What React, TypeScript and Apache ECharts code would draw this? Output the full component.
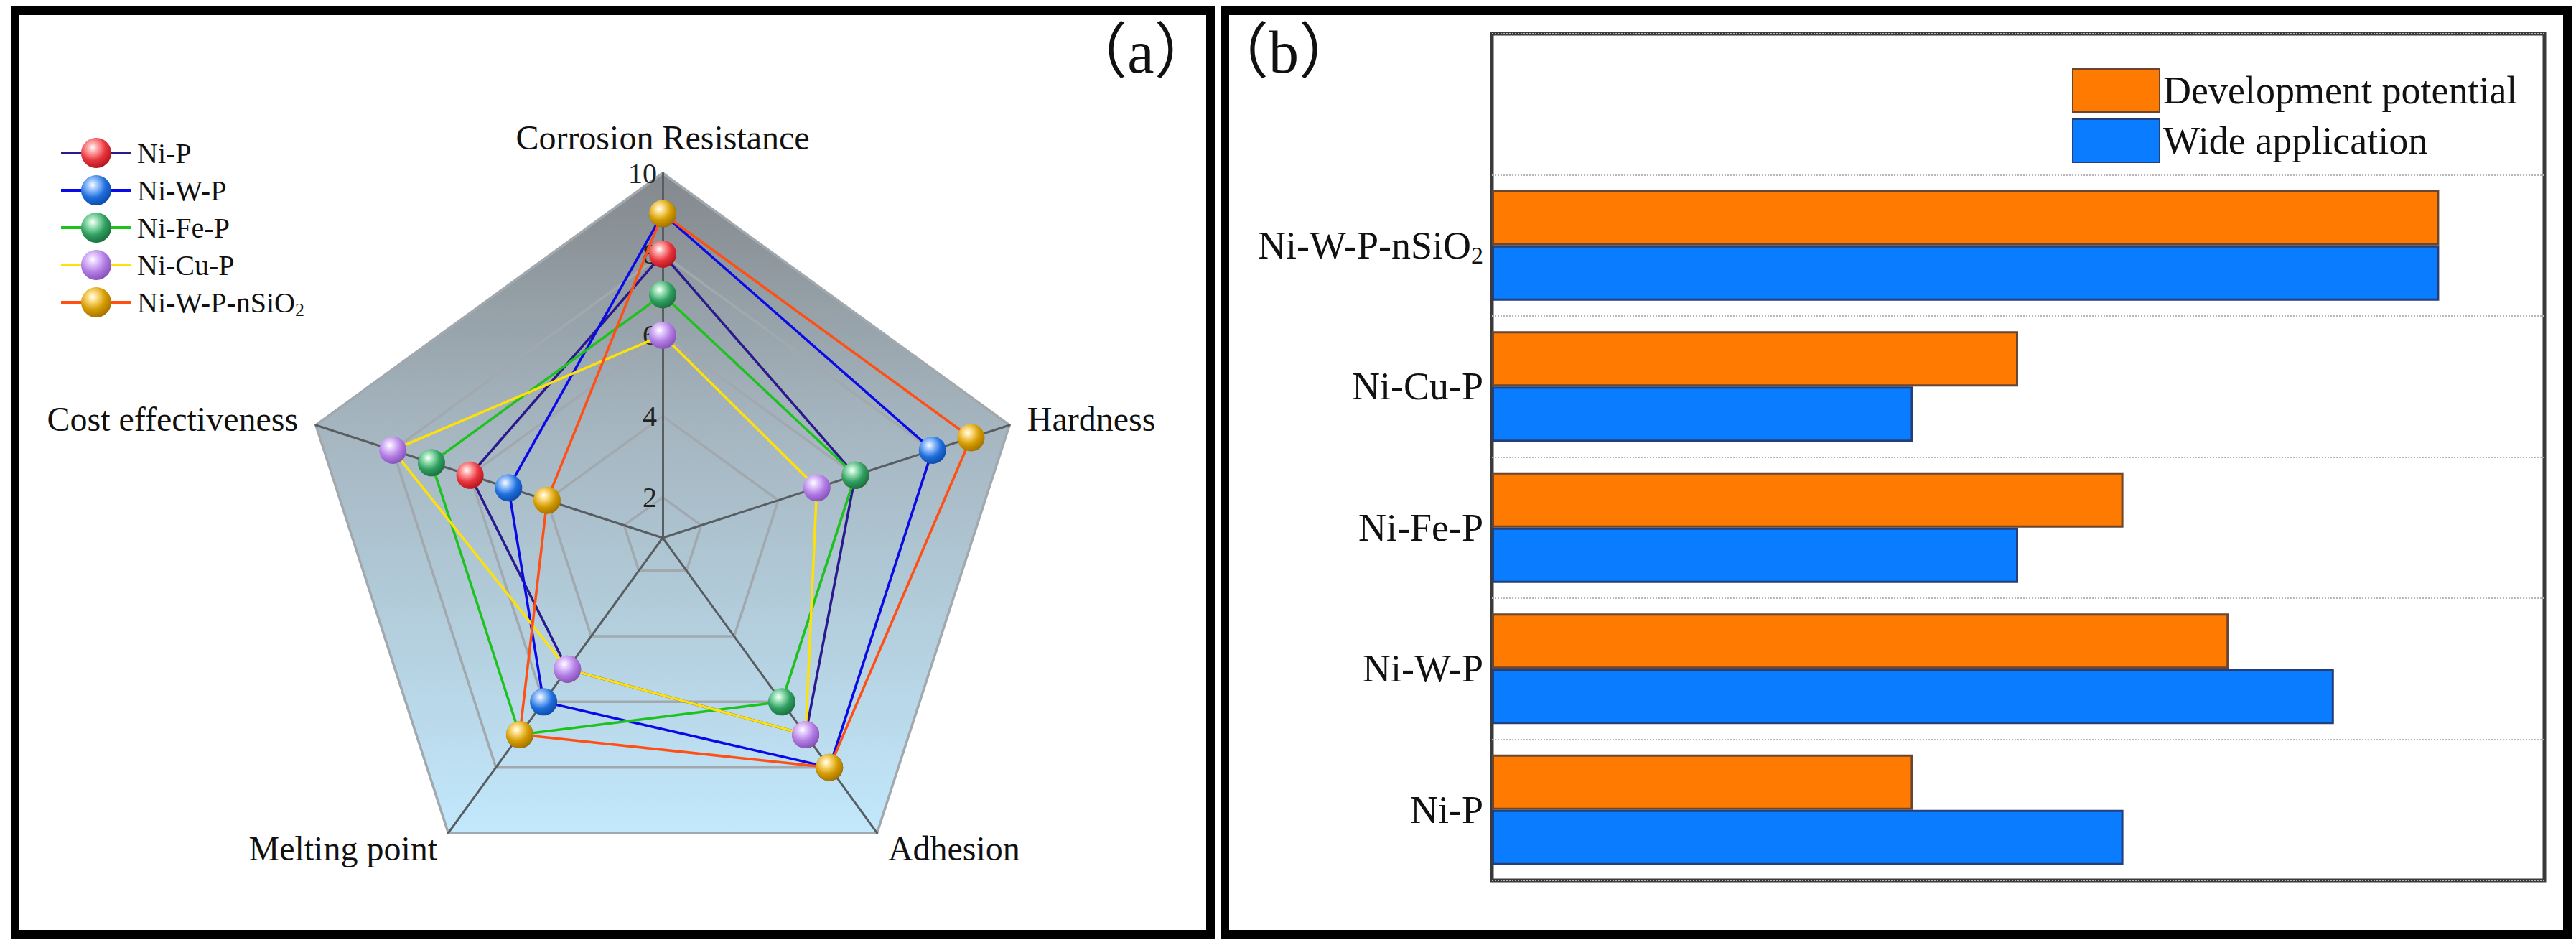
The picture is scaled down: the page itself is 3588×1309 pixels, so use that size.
import React, { useEffect, useRef } from 'react';
import * as echarts from 'echarts';

// ---------- data ----------
const indicatorNames = ['Corrosion Resistance', 'Cost effectiveness', 'Melting point', 'Adhesion', 'Hardness'];
const radarMin = 1;
const radarMax = 10;
const coatingNames = ['Ni-P', 'Ni-W-P', 'Ni-Fe-P', 'Ni-Cu-P', 'Ni-W-P-nSiO2'];
// order: Corrosion Resistance, Cost effectiveness, Melting point, Adhesion, Hardness
const niP = [8, 6, 5, 7, 6];
const niWP = [9, 5, 6, 8, 8];
const niFeP = [7, 7, 7, 6, 6];
const niCuP = [6, 8, 5, 7, 5];
const niWPnSiO2 = [9, 4, 7, 8, 9];
const radarValues = [niP, niWP, niFeP, niCuP, niWPnSiO2];

const barCategories = ['Ni-P', 'Ni-W-P', 'Ni-Fe-P', 'Ni-Cu-P', 'Ni-W-P-nSiO2', ''];
const developmentPotential = [4, 7, 6, 5, 9];
const wideApplication = [6, 8, 5, 4, 9];
const barMax = 10;

// ---------- styles ----------
const FONT = '"Liberation Serif", "Times New Roman", "Noto Sans CJK SC", serif';
const lineColors = ['#2b1a8e', '#0a0ae8', '#1ec21e', '#ffe10a', '#ff4f14'];
const markerColors = [
  ['#ffb0b0', '#e8343c', '#b0141c'],
  ['#a8ccff', '#1f6fdd', '#0c48a6'],
  ['#a8e8c0', '#2f9f60', '#1a6c3c'],
  ['#e6cdff', '#b07be2', '#8350b8'],
  ['#ffe08a', '#d39b00', '#a06f00'],
];

const CX = 923;
const CY = 749;
const R = 508;

function sphere(c: string[]) {
  return {
    type: 'radial',
    x: 0.38,
    y: 0.32,
    r: 0.72,
    colorStops: [
      { offset: 0, color: '#ffffff' },
      { offset: 0.2, color: c[0] },
      { offset: 0.6, color: c[1] },
      { offset: 1, color: c[2] },
    ],
  };
}

function richName(name: string) {
  const m = name.match(/^(.*)O2$/);
  return m ? `{n|${m[1]}O}{s|2}` : `{n|${name}}`;
}

function buildOption() {
  const radarSeries = coatingNames.map((name, i) => ({
    type: 'radar',
    name,
    radarIndex: 0,
    symbol: 'circle',
    symbolSize: 38,
    z: 3 + i,
    lineStyle: { color: lineColors[i], width: 3.5 },
    itemStyle: { color: sphere(markerColors[i]) },
    data: [{ value: radarValues[i], name }],
  }));

  const areaGradient = {
    type: 'linear',
    x: 0,
    y: CY - R,
    x2: 0,
    y2: CY + R * Math.cos(Math.PI / 5),
    global: true,
    colorStops: [
      { offset: 0, color: '#83888c' },
      { offset: 0.38, color: '#a5b5bf' },
      { offset: 1, color: '#c2e8fc' },
    ],
  };

  const legendY0 = 213;
  const legendStep = 52;
  const legendGraphics: any[] = [];
  coatingNames.forEach((name, i) => {
    const y = legendY0 + i * legendStep;
    legendGraphics.push({
      type: 'line',
      shape: { x1: 85, y1: y, x2: 183, y2: y },
      style: { stroke: lineColors[i], lineWidth: 4 },
    });
    legendGraphics.push({
      type: 'circle',
      shape: { cx: 134, cy: y, r: 21 },
      style: { fill: sphere(markerColors[i]) },
    });
    legendGraphics.push({
      type: 'text',
      x: 191,
      y,
      style: {
        text: richName(name),
        verticalAlign: 'middle',
        align: 'left',
        fontFamily: FONT,
        fontSize: 40,
        fill: '#111',
        rich: {
          n: { fontSize: 40, fontFamily: FONT, fill: '#111' },
          s: { fontSize: 26, fontFamily: FONT, fill: '#111', padding: [20, 0, 0, 0] },
        },
      },
    });
  });

  return {
    animation: false,
    backgroundColor: '#ffffff',
    radar: {
      center: [CX, CY],
      radius: R,
      shape: 'polygon',
      startAngle: 90,
      splitNumber: 9,
      nameGap: 26,
      axisName: { color: '#111', fontSize: 48, fontFamily: FONT },
      indicator: indicatorNames.map((name, i) =>
        i === 0
          ? { name, min: radarMin, max: radarMax }
          : { name, min: radarMin, max: radarMax, axisLabel: { show: false } }
      ),
      axisLine: { lineStyle: { color: '#585d61', width: 3 } },
      axisTick: { show: false },
      axisLabel: {
        show: true,
        fontSize: 40,
        fontFamily: FONT,
        color: '#222',
        margin: 8,
        formatter: (v: number) => (Math.round(v) % 2 === 0 ? String(Math.round(v)) : ''),
      },
      splitLine: {
        lineStyle: { color: ['rgba(0,0,0,0)', '#a2a9ae'], width: 3.5 },
      },
      splitArea: { show: true, areaStyle: { color: [areaGradient] } },
    },
    grid: {
      left: 2078,
      top: 47,
      width: 1466,
      height: 1179,
      show: true,
      borderColor: '#3a3a3a',
      borderWidth: 5,
      backgroundColor: 'rgba(0,0,0,0)',
    },
    xAxis: { type: 'value', min: 0, max: barMax, show: false },
    yAxis: {
      type: 'category',
      data: barCategories,
      axisLine: { show: false },
      axisTick: { show: false },
      splitLine: { show: true, interval: 0, lineStyle: { type: 'dotted', color: '#b8b8b8', width: 2 } },
      axisLabel: {
        margin: 12,
        interval: 0,
        fontSize: 54,
        fontFamily: FONT,
        color: '#111',
        formatter: (v: string) => (v === '' ? '' : richName(v)),
        rich: {
          n: { fontSize: 54, fontFamily: FONT, color: '#111' },
          s: { fontSize: 34, fontFamily: FONT, color: '#111', padding: [28, 0, 0, 0] },
        },
      },
    },
    legend: {
      data: ['Development potential', 'Wide application'],
      orient: 'vertical',
      left: 2881,
      top: 90,
      itemWidth: 121,
      itemHeight: 60,
      itemGap: 8,
      icon: 'rect',
      textStyle: { fontSize: 54, fontFamily: FONT, color: '#111' },
    },
    series: [
      ...radarSeries,
      {
        type: 'bar',
        name: 'Development potential',
        data: developmentPotential,
        barWidth: 77,
        barGap: '0%',
        itemStyle: { color: '#ff7a00', borderColor: '#6a4630', borderWidth: 3 },
      },
      {
        type: 'bar',
        name: 'Wide application',
        data: wideApplication,
        barWidth: 77,
        barGap: '0%',
        itemStyle: { color: '#0a7cff', borderColor: '#243f78', borderWidth: 3 },
      },
    ],
    graphic: [
      {
        type: 'rect',
        shape: { x: 21, y: 15, width: 1665, height: 1286 },
        style: { fill: 'none', stroke: '#000', lineWidth: 12 },
        z: 100,
      },
      {
        type: 'rect',
        shape: { x: 1706, y: 15, width: 1870, height: 1286 },
        style: { fill: 'none', stroke: '#000', lineWidth: 12 },
        z: 100,
      },
      {
        type: 'text',
        x: 1589,
        y: 72,
        style: { text: '（a）', align: 'center', verticalAlign: 'middle', fontSize: 84, fontFamily: FONT, fill: '#111' },
      },
      {
        type: 'text',
        x: 1788,
        y: 72,
        style: { text: '（b）', align: 'center', verticalAlign: 'middle', fontSize: 84, fontFamily: FONT, fill: '#111' },
      },
      ...legendGraphics,
    ],
  };
}

export default function App() {
  const ref = useRef<HTMLDivElement>(null);
  useEffect(() => {
    if (!ref.current) return;
    const chart = echarts.init(ref.current, null, { renderer: 'svg' });
    chart.setOption(buildOption() as any);
    return () => chart.dispose();
  }, []);
  return (
    <div
      ref={ref}
      style={{ position: 'absolute', left: 0, top: 0, width: 3588, height: 1309, background: '#fff' }}
    />
  );
}
